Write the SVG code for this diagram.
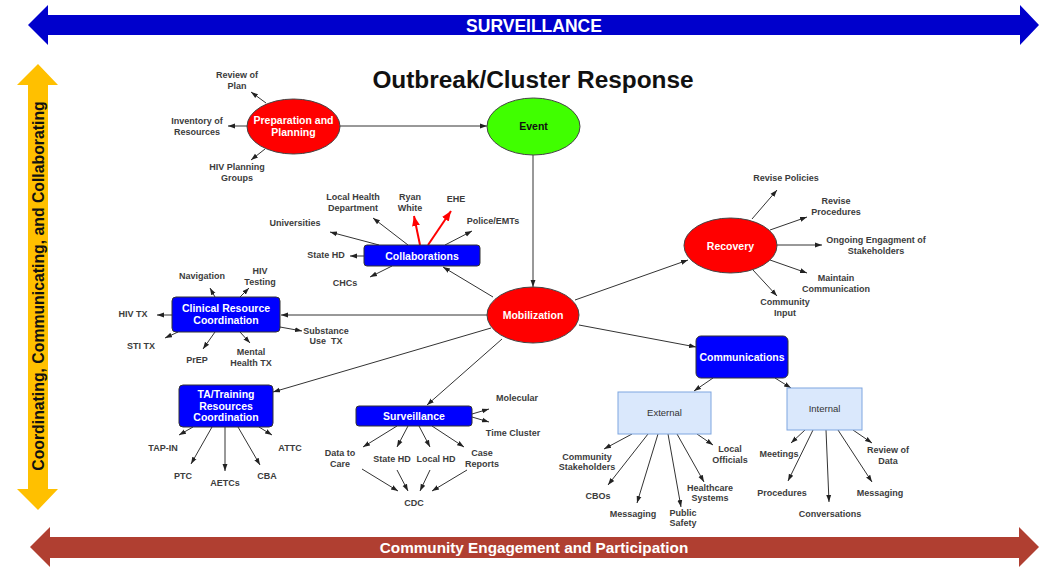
<svg xmlns="http://www.w3.org/2000/svg" width="1039" height="567" viewBox="0 0 1039 567">
<defs>
<style>
text{font-family:"Liberation Sans",Arial,sans-serif}
.sat{font-size:9px;font-weight:bold;fill:#3c3c3c;text-anchor:middle}
.nt{font-size:10.5px;font-weight:bold;fill:#fff;text-anchor:middle}
.lt{font-size:9.5px;fill:#333;text-anchor:middle}
.ell{fill:#ff0000;stroke:#444;stroke-width:1}
.box{fill:#0000ff;stroke:#333;stroke-width:1}
.lbox{fill:#dae8fc;stroke:#7ea6e0;stroke-width:1}
.c{stroke:#333;stroke-width:1;fill:none;marker-end:url(#ah)}
.r{stroke:#ff0000;stroke-width:2;fill:none;marker-end:url(#rh)}
.band{font-weight:bold;fill:#fff;text-anchor:middle}
</style>
<marker id="ah" viewBox="0 0 10 10" refX="10" refY="5" markerWidth="7" markerHeight="7" orient="auto" markerUnits="userSpaceOnUse"><path d="M0,1.5 L10,5 L0,8.5 z" fill="#222"/></marker>
<marker id="rh" viewBox="0 0 10 10" refX="10" refY="5" markerWidth="10" markerHeight="10" orient="auto" markerUnits="userSpaceOnUse"><path d="M0,1 L10,5 L0,9 z" fill="#ff0000"/></marker>
</defs>
<rect width="1039" height="567" fill="#fff"/>

<g id="surveillance-band">
<polygon points="28,25 48,5 48,15 1020,15 1020,5 1039,25 1020,45 1020,35 48,35 48,45" fill="#0000cc"/>
<text class="band" x="534" y="32" font-size="17.5">SURVEILLANCE</text>
</g>
<g id="community-band">
<polygon points="30,547 50,527 50,537 1019,537 1019,527 1039,547 1019,567 1019,558 50,558 50,567" fill="#b03f31"/>
<text class="band" x="534" y="553" font-size="15.3">Community Engagement and Participation</text>
</g>
<g id="coordinating-band">
<polygon points="38,64 58,85 48,85 48,489 58,489 38,510 17,489 28,489 28,85 17,85" fill="#ffc000"/>
<text transform="translate(43.5,286) rotate(-90)" text-anchor="middle" font-size="15.8" font-weight="bold" fill="#111">Coordinating, Communicating, and Collaborating</text>
</g>

<text x="533" y="88" text-anchor="middle" font-size="24.4" font-weight="bold" fill="#111">Outbreak/Cluster Response</text>

<g id="connectors">
<line class="c" x1="340" y1="126" x2="487" y2="126"/>
<line class="c" x1="266" y1="103" x2="251" y2="92"/>
<line class="c" x1="247" y1="126" x2="228" y2="126"/>
<line class="c" x1="265" y1="149" x2="251" y2="160"/>
<line class="c" x1="533" y1="155" x2="533" y2="287"/>
<line class="c" x1="493" y1="297" x2="443" y2="267"/>
<line class="c" x1="408" y1="245" x2="373" y2="218"/>
<line class="r" x1="420" y1="245" x2="414" y2="216"/>
<line class="r" x1="428" y1="245" x2="451" y2="211"/>
<line class="c" x1="445" y1="245" x2="472" y2="231"/>
<line class="c" x1="379" y1="245" x2="330" y2="232"/>
<line class="c" x1="364" y1="256" x2="350" y2="256"/>
<line class="c" x1="392" y1="266" x2="370" y2="277"/>
<line class="c" x1="487" y1="315" x2="281" y2="315"/>
<line class="c" x1="215" y1="297" x2="210" y2="288"/>
<line class="c" x1="240" y1="297" x2="249" y2="288"/>
<line class="c" x1="172" y1="315" x2="157" y2="315"/>
<line class="c" x1="178" y1="332" x2="165" y2="338"/>
<line class="c" x1="215" y1="332" x2="203" y2="349"/>
<line class="c" x1="240" y1="332" x2="250" y2="343"/>
<line class="c" x1="280" y1="327" x2="302" y2="331"/>
<line class="c" x1="491" y1="328" x2="273" y2="392"/>
<line class="c" x1="193" y1="427" x2="179" y2="435"/>
<line class="c" x1="212" y1="427" x2="191" y2="464"/>
<line class="c" x1="225" y1="427" x2="225" y2="471"/>
<line class="c" x1="238" y1="427" x2="260" y2="465"/>
<line class="c" x1="259" y1="427" x2="272" y2="435"/>
<line class="c" x1="502" y1="339" x2="427" y2="405"/>
<line class="c" x1="472" y1="414" x2="489" y2="409"/>
<line class="c" x1="472" y1="417" x2="489" y2="422"/>
<line class="c" x1="397" y1="426" x2="363" y2="447"/>
<line class="c" x1="408" y1="426" x2="397" y2="447"/>
<line class="c" x1="419" y1="426" x2="430" y2="447"/>
<line class="c" x1="432" y1="426" x2="464" y2="447"/>
<line class="c" x1="362" y1="469" x2="398" y2="491"/>
<line class="c" x1="397" y1="470" x2="408" y2="491"/>
<line class="c" x1="430" y1="470" x2="420" y2="491"/>
<line class="c" x1="467" y1="470" x2="432" y2="491"/>
<line class="c" x1="575" y1="300" x2="688" y2="260"/>
<line class="c" x1="752" y1="219" x2="777" y2="190"/>
<line class="c" x1="770" y1="230" x2="807" y2="217"/>
<line class="c" x1="777" y1="245" x2="822" y2="245"/>
<line class="c" x1="770" y1="260" x2="807" y2="273"/>
<line class="c" x1="753" y1="270" x2="777" y2="296"/>
<line class="c" x1="579" y1="325" x2="696" y2="347"/>
<line class="c" x1="713" y1="378" x2="694" y2="391"/>
<line class="c" x1="775" y1="378" x2="791" y2="388"/>
<line class="c" x1="632" y1="434" x2="604" y2="449"/>
<line class="c" x1="648" y1="434" x2="608" y2="485"/>
<line class="c" x1="658" y1="434" x2="637" y2="503"/>
<line class="c" x1="668" y1="434" x2="681" y2="507"/>
<line class="c" x1="677" y1="434" x2="704" y2="482"/>
<line class="c" x1="697" y1="434" x2="713" y2="445"/>
<line class="c" x1="805" y1="430" x2="791" y2="443"/>
<line class="c" x1="813" y1="430" x2="788" y2="481"/>
<line class="c" x1="826" y1="430" x2="829" y2="502"/>
<line class="c" x1="838" y1="430" x2="872" y2="482"/>
<line class="c" x1="853" y1="430" x2="872" y2="443"/>
</g>

<g id="preparation">
<ellipse class="ell" cx="293.5" cy="126.5" rx="46.5" ry="27.5"/>
<text class="nt" x="293.5" y="124">Preparation and</text>
<text class="nt" x="293.5" y="136">Planning</text>
</g>
<g id="prep-labels">
<text class="sat" x="237" y="78">Review of</text>
<text class="sat" x="237" y="89">Plan</text>
<text class="sat" x="197" y="124">Inventory of</text>
<text class="sat" x="197" y="135">Resources</text>
<text class="sat" x="237" y="170">HIV Planning</text>
<text class="sat" x="237" y="181">Groups</text>
</g>
<g id="event">
<ellipse cx="533.5" cy="126.5" rx="46.5" ry="28.5" fill="#40ff00" stroke="#444"/>
<text x="533.5" y="130" text-anchor="middle" font-size="10.5" font-weight="bold" fill="#111">Event</text>
</g>
<g id="mobilization">
<ellipse class="ell" cx="533" cy="315" rx="46" ry="28"/>
<text class="nt" x="533" y="319">Mobilization</text>
</g>
<g id="collaborations">
<rect class="box" x="364" y="245" width="116" height="21" rx="3"/>
<text class="nt" x="422" y="259.5">Collaborations</text>
</g>
<g id="collab-labels">
<text class="sat" x="353" y="200">Local Health</text>
<text class="sat" x="353" y="211">Department</text>
<text class="sat" x="410" y="200">Ryan</text>
<text class="sat" x="410" y="211">White</text>
<text class="sat" x="456" y="202">EHE</text>
<text class="sat" x="493" y="224">Police/EMTs</text>
<text class="sat" x="295" y="226">Universities</text>
<text class="sat" x="326" y="258">State HD</text>
<text class="sat" x="345" y="286">CHCs</text>
</g>
<g id="clinical">
<rect class="box" x="172" y="297" width="108" height="35" rx="4"/>
<text class="nt" x="226" y="312">Clinical Resource</text>
<text class="nt" x="226" y="324">Coordination</text>
</g>
<g id="clinical-labels">
<text class="sat" x="202" y="279">Navigation</text>
<text class="sat" x="260" y="274">HIV</text>
<text class="sat" x="260" y="285">Testing</text>
<text class="sat" x="133" y="317">HIV TX</text>
<text class="sat" x="141" y="349">STI TX</text>
<text class="sat" x="197" y="363">PrEP</text>
<text class="sat" x="251" y="355">Mental</text>
<text class="sat" x="251" y="366">Health TX</text>
<text class="sat" x="326" y="334">Substance</text>
<text class="sat" x="326" y="344" xml:space="preserve">Use  TX</text>
</g>
<g id="ta-training">
<rect class="box" x="179" y="385" width="94" height="42" rx="4"/>
<text class="nt" x="226" y="398">TA/Training</text>
<text class="nt" x="226" y="409.5">Resources</text>
<text class="nt" x="226" y="421">Coordination</text>
</g>
<g id="ta-labels">
<text class="sat" x="163" y="451">TAP-IN</text>
<text class="sat" x="183" y="479">PTC</text>
<text class="sat" x="225" y="486">AETCs</text>
<text class="sat" x="267" y="479">CBA</text>
<text class="sat" x="290" y="451">ATTC</text>
</g>
<g id="surveillance">
<rect class="box" x="356" y="406" width="116" height="20" rx="3"/>
<text class="nt" x="414" y="420">Surveillance</text>
</g>
<g id="surv-labels">
<text class="sat" x="517" y="401">Molecular</text>
<text class="sat" x="513" y="436">Time Cluster</text>
<text class="sat" x="340" y="456">Data to</text>
<text class="sat" x="340" y="467">Care</text>
<text class="sat" x="392" y="462">State HD</text>
<text class="sat" x="436" y="462">Local HD</text>
<text class="sat" x="482" y="456">Case</text>
<text class="sat" x="482" y="467">Reports</text>
<text class="sat" x="414" y="506">CDC</text>
</g>
<g id="recovery">
<ellipse class="ell" cx="730.5" cy="245.5" rx="46.5" ry="27.5"/>
<text class="nt" x="730.5" y="249.5">Recovery</text>
</g>
<g id="recovery-labels">
<text class="sat" x="786" y="181">Revise Policies</text>
<text class="sat" x="836" y="204">Revise</text>
<text class="sat" x="836" y="215">Procedures</text>
<text class="sat" x="876" y="243">Ongoing Engagment of</text>
<text class="sat" x="876" y="254">Stakeholders</text>
<text class="sat" x="836" y="281">Maintain</text>
<text class="sat" x="836" y="292">Communication</text>
<text class="sat" x="785" y="305">Community</text>
<text class="sat" x="785" y="316">Input</text>
</g>
<g id="communications">
<rect class="box" x="696" y="336" width="92" height="42" rx="5"/>
<text class="nt" x="742" y="360.5">Communications</text>
</g>
<g id="external">
<rect class="lbox" x="618" y="392" width="93" height="42"/>
<text class="lt" x="664.5" y="416">External</text>
</g>
<g id="internal">
<rect class="lbox" x="787" y="388" width="75" height="42"/>
<text class="lt" x="824.5" y="412">Internal</text>
</g>
<g id="external-labels">
<text class="sat" x="587" y="460">Community</text>
<text class="sat" x="587" y="470">Stakeholders</text>
<text class="sat" x="598" y="499">CBOs</text>
<text class="sat" x="633" y="517">Messaging</text>
<text class="sat" x="683" y="516">Public</text>
<text class="sat" x="683" y="526">Safety</text>
<text class="sat" x="710" y="491">Healthcare</text>
<text class="sat" x="710" y="501">Systems</text>
<text class="sat" x="730" y="452">Local</text>
<text class="sat" x="730" y="463">Officials</text>
</g>
<g id="internal-labels">
<text class="sat" x="779" y="457">Meetings</text>
<text class="sat" x="782" y="496">Procedures</text>
<text class="sat" x="830" y="517">Conversations</text>
<text class="sat" x="880" y="496">Messaging</text>
<text class="sat" x="888" y="453">Review of</text>
<text class="sat" x="888" y="464">Data</text>
</g>
</svg>
